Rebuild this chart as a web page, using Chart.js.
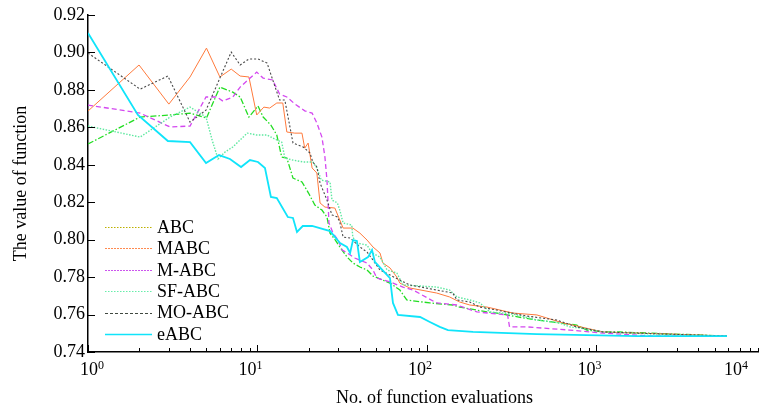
<!DOCTYPE html>
<html>
<head>
<meta charset="utf-8">
<script src="https://cdn.jsdelivr.net/npm/chart.js@4"></script>
<style>
  html, body { margin: 0; padding: 0; background: #fff; }
</style>
</head>
<body>
<canvas id="convChart" width="759" height="412"></canvas>
<script>
"use strict";

// Values (x = function evaluations, y = value of function)
const SERIES_NAMES = ["ABC", "MABC", "M-ABC", "SF-ABC", "MO-ABC", "eABC"];
const X_TICK_POWERS = [0, 1, 2, 3, 4];
const Y_TICKS = [0.74, 0.76, 0.78, 0.80, 0.82, 0.84, 0.86, 0.88, 0.90, 0.92];
const X_TITLE = "No. of function evaluations";
const Y_TITLE = "The value of function";

const abcX = [1, 2.03, 3.05, 4.0, 5.0, 6.0, 7.15, 7.9, 8.9, 10.07, 10.8, 12.0, 13.0, 13.9, 14.9, 16.2, 18.3, 20.0, 21.8, 24.0, 25.7, 26.8, 28.8, 30.6, 33.8, 36.6, 40.2, 44.3, 48.0, 60.5, 69.2, 76.0, 104, 142, 156, 226, 258, 322, 369, 445, 765, 877, 1093, 1370, 5890];
const abcY = [0.8511, 0.8655, 0.8666, 0.8676, 0.8650, 0.8815, 0.8788, 0.8762, 0.8655, 0.8714, 0.8655, 0.8612, 0.8559, 0.8441, 0.8436, 0.8329, 0.8308, 0.8249, 0.8185, 0.8158, 0.8121, 0.8035, 0.7998, 0.7961, 0.7907, 0.7875, 0.7854, 0.7838, 0.7806, 0.7768, 0.7731, 0.7678, 0.7662, 0.7651, 0.7640, 0.7614, 0.7608, 0.7592, 0.7582, 0.7571, 0.7544, 0.7517, 0.7507, 0.7507, 0.7485];

const mabcX = [1, 2.0, 3.0, 4.0, 5.0, 6.0, 7.0, 7.9, 8.9, 9.9, 10.9, 11.8, 13.0, 14.1, 14.9, 16.6, 18.3, 19.0, 19.9, 21.0, 22.4, 23.4, 25.0, 28.6, 30.6, 32.0, 36.5, 40.2, 44.3, 48.0, 52.8, 55.0, 60.5, 66.4, 69.2, 79.2, 114, 136, 156, 179, 226, 322, 445, 634, 765, 1093, 1733, 2710, 5890];
const mabcY = [0.8687, 0.8933, 0.8724, 0.8869, 0.9023, 0.8869, 0.8911, 0.8874, 0.8869, 0.8666, 0.8708, 0.8703, 0.8730, 0.8730, 0.8575, 0.8569, 0.8569, 0.8489, 0.8516, 0.8383, 0.8356, 0.8196, 0.8174, 0.8169, 0.8105, 0.8062, 0.8062, 0.8035, 0.7998, 0.7961, 0.7929, 0.7875, 0.7849, 0.7800, 0.7768, 0.7742, 0.7715, 0.7694, 0.7667, 0.7651, 0.7640, 0.7608, 0.7598, 0.7555, 0.7539, 0.7507, 0.7501, 0.7496, 0.7485];

const mAbcX = [1, 2.03, 3.05, 4.0, 4.97, 5.76, 6.25, 7.15, 7.9, 9.9, 10.8, 12.3, 13.5, 14.9, 16.6, 19.0, 21.0, 22.4, 24.0, 25.0, 25.7, 26.0, 26.4, 27.9, 29.9, 31.6, 33.8, 37.5, 44.3, 48.0, 50.6, 60.5, 72.2, 82.8, 114, 150, 197, 299, 307, 389, 697, 1093, 2150, 5890];
const mAbcY = [0.8719, 0.8676, 0.8602, 0.8607, 0.8762, 0.8762, 0.8740, 0.8762, 0.8815, 0.8895, 0.8863, 0.8853, 0.8778, 0.8762, 0.8725, 0.8688, 0.8676, 0.8623, 0.8548, 0.8441, 0.8318, 0.8228, 0.8089, 0.8035, 0.7998, 0.7945, 0.7929, 0.7902, 0.7875, 0.7838, 0.7795, 0.7774, 0.7747, 0.7731, 0.7662, 0.7651, 0.7614, 0.7598, 0.7534, 0.7534, 0.7517, 0.7501, 0.7485, 0.7485];

const sfX = [1, 2.03, 3.05, 4.0, 4.97, 5.4, 5.85, 6.43, 7.15, 8.7, 9.9, 11.4, 12.3, 13.9, 14.5, 16.2, 18.6, 21.2, 22.4, 23.8, 26.8, 27.5, 29.6, 30.6, 32.0, 36.0, 36.5, 38.6, 44.3, 47.4, 52.8, 58.2, 66.4, 72.2, 114, 136, 150, 179, 205, 235, 322, 445, 607, 697, 800, 1093, 2150, 5890];
const sfY = [0.8607, 0.8548, 0.8655, 0.8708, 0.8655, 0.8532, 0.8431, 0.8468, 0.8495, 0.8569, 0.8559, 0.8559, 0.8543, 0.8521, 0.8436, 0.8425, 0.8415, 0.8415, 0.8383, 0.8318, 0.8308, 0.8212, 0.8196, 0.8158, 0.8089, 0.8078, 0.8014, 0.7982, 0.7971, 0.7929, 0.7907, 0.7838, 0.7822, 0.7758, 0.7747, 0.7731, 0.7694, 0.7678, 0.7662, 0.7614, 0.7603, 0.7571, 0.7555, 0.7534, 0.7528, 0.7507, 0.7496, 0.7485];

const moX = [1, 2.03, 2.96, 4.0, 4.97, 6.0, 7.0, 7.9, 8.9, 10.07, 11.4, 12.3, 13.5, 14.5, 16.2, 18.6, 20.4, 21.2, 22.4, 23.4, 25.7, 27.5, 29.6, 30.6, 32.0, 35.2, 40.2, 44.3, 48.0, 52.8, 60.5, 69.2, 79.2, 114, 142, 150, 179, 205, 258, 388, 582, 765, 1093, 5890];
const moY = [0.8997, 0.8804, 0.8874, 0.8628, 0.8692, 0.8863, 0.9002, 0.8933, 0.8965, 0.8965, 0.8943, 0.8853, 0.8746, 0.8746, 0.8516, 0.8495, 0.8463, 0.8415, 0.8388, 0.8302, 0.8212, 0.8132, 0.8121, 0.8094, 0.8014, 0.8009, 0.7961, 0.7934, 0.7891, 0.7838, 0.7811, 0.7784, 0.7758, 0.7731, 0.7715, 0.7678, 0.7667, 0.7640, 0.7624, 0.7592, 0.7571, 0.7534, 0.7507, 0.7485];

const eAbcX = [1, 1.97, 2.96, 4.0, 4.97, 5.93, 6.88, 8.0, 9.03, 10.07, 11.07, 12.0, 13.0, 15.1, 16.2, 17.1, 18.5, 21.0, 26.8, 30.7, 33.7, 35.2, 36.6, 38.6, 40.2, 44.9, 47.4, 49.3, 60.5, 63.0, 67.4, 91.0, 104, 119, 133, 187, 445, 1733, 5890];
const eAbcY = [0.9104, 0.8666, 0.8527, 0.8521, 0.8409, 0.8452, 0.8431, 0.8388, 0.8425, 0.8415, 0.8383, 0.8228, 0.8222, 0.8121, 0.8116, 0.8041, 0.8073, 0.8073, 0.8046, 0.7982, 0.7961, 0.7929, 0.7998, 0.7993, 0.7881, 0.7907, 0.7945, 0.7881, 0.7795, 0.7662, 0.7598, 0.7587, 0.7560, 0.7534, 0.7517, 0.7507, 0.7496, 0.7485, 0.7485];

const FONT_FAMILY = '"Liberation Serif", "Times New Roman", Times, serif';
const FONT_SIZE = 18;

function toPoints(xs, ys) {
  return xs.map((x, i) => ({ x: x, y: ys[i] }));
}

const seriesData = [
  toPoints(abcX, abcY),
  toPoints(mabcX, mabcY),
  toPoints(mAbcX, mAbcY),
  toPoints(sfX, sfY),
  toPoints(moX, moY),
  toPoints(eAbcX, eAbcY),
];

// line looks, one per series
const looks = [
  { color: "#22dd22", dash: [6, 2, 1.5, 2], width: 1.3, legendColor: "#bcb000", legendDash: [1.5, 1.5] },
  { color: "#ff7a3c", dash: [], width: 1, legendColor: "#ff8a50", legendDash: [2, 1] },
  { color: "#d448f0", dash: [5, 3], width: 1.3, legendColor: "#cc55ee", legendDash: [2, 1] },
  { color: "#5ee8a0", dash: [1.5, 1.5], width: 1.4, legendColor: "#66eeaa", legendDash: [1.5, 1.5] },
  { color: "#484848", dash: [2, 2], width: 1.1, legendColor: "#404840", legendDash: [3, 2] },
  { color: "#10e4fa", dash: [], width: 1.8, legendColor: "#10e4fa", legendDash: [] },
];

const datasets = SERIES_NAMES.map((name, i) => ({
  label: name,
  data: seriesData[i],
  borderColor: looks[i].color,
  borderDash: looks[i].dash,
  borderWidth: looks[i].width,
  pointRadius: 0,
  fill: false,
  tension: 0,
  order: SERIES_NAMES.length - i,
}));

// inward tick marks, 10^n labels, x title and the legend inside the axes
const decorPlugin = {
  id: "decor",
  afterDraw(chart) {
    const ctx = chart.ctx;
    const a = chart.chartArea;
    const xs = chart.scales.x;
    const ys = chart.scales.y;
    ctx.save();
    ctx.strokeStyle = "#000";
    ctx.lineWidth = 1;
    ctx.setLineDash([]);

    Y_TICKS.forEach(v => {
      const py = Math.round(ys.getPixelForValue(v)) + 0.5;
      ctx.beginPath();
      ctx.moveTo(a.left, py);
      ctx.lineTo(a.left + 7, py);
      ctx.stroke();
    });

    for (let p = 0; p < 4; p++) {
      for (let m = 1; m <= 9; m++) {
        const v = m * Math.pow(10, p);
        if (v > xs.max) break;
        const px = Math.round(xs.getPixelForValue(v)) + 0.5;
        const len = m === 1 ? 7 : 4;
        ctx.beginPath();
        ctx.moveTo(px, a.bottom);
        ctx.lineTo(px, a.bottom - len);
        ctx.stroke();
      }
    }

    ctx.fillStyle = "#000";
    ctx.textBaseline = "alphabetic";
    ctx.textAlign = "left";
    const bigFont = FONT_SIZE + "px " + FONT_FAMILY;
    const supFont = "12px " + FONT_FAMILY;
    X_TICK_POWERS.forEach(p => {
      const px = xs.getPixelForValue(Math.pow(10, p));
      ctx.font = bigFont;
      const w1 = ctx.measureText("10").width;
      ctx.font = supFont;
      const w2 = ctx.measureText(String(p)).width;
      const w = w1 + w2;
      let left = px - 7 - w / 2;
      left = Math.max(left, a.left - 8);
      left = Math.min(left, chart.width - 11 - w);
      ctx.font = bigFont;
      ctx.fillText("10", left, a.bottom + 23);
      ctx.font = supFont;
      ctx.fillText(String(p), left + w1, a.bottom + 17);
    });

    ctx.font = bigFont;
    ctx.textAlign = "center";
    ctx.fillText(X_TITLE, (a.left + a.right) / 2 + 11, a.bottom + 51);

    // legend, lower left inside the axes
    const lx = a.left + 17;
    const rowH = 21.4;
    const n = SERIES_NAMES.length;
    ctx.textAlign = "left";
    ctx.textBaseline = "middle";
    SERIES_NAMES.forEach((name, i) => {
      const ly = a.bottom - 18 - (n - 1 - i) * rowH;
      ctx.strokeStyle = looks[i].legendColor;
      ctx.lineWidth = i === n - 1 ? 1.5 : 1.2;
      ctx.setLineDash(looks[i].legendDash);
      ctx.beginPath();
      ctx.moveTo(lx, Math.round(ly) + 0.5);
      ctx.lineTo(lx + 47, Math.round(ly) + 0.5);
      ctx.stroke();
      ctx.setLineDash([]);
      ctx.fillStyle = "#000";
      ctx.fillText(name, lx + 52, ly + 1);
    });
    ctx.restore();
  },
};

const canvas = document.getElementById("convChart");
const _ = new Chart(canvas.getContext("2d"), {
  type: "line",
  data: { datasets: datasets },
  plugins: [decorPlugin],
  options: {
    responsive: false,
    animation: false,
    devicePixelRatio: 1,
    layout: { padding: { top: 15, right: 0, left: 0, bottom: 0 } },
    plugins: {
      legend: { display: false },
      tooltip: { enabled: false },
    },
    scales: {
      x: {
        type: "logarithmic",
        min: 1,
        max: 9100,
        grid: { display: false, drawTicks: false },
        border: { display: true, color: "#000", width: 1.5 },
        ticks: { display: false },
        afterFit(scale) { scale.height = 60; },
      },
      y: {
        type: "linear",
        min: 0.74,
        max: 0.92,
        grid: { display: false, drawTicks: false },
        border: { display: true, color: "#000", width: 1.5 },
        afterBuildTicks(scale) { scale.ticks = Y_TICKS.map(v => ({ value: v })); },
        ticks: {
          color: "#000",
          padding: 3,
          font: { family: FONT_FAMILY, size: FONT_SIZE },
          callback: v => Number(v).toFixed(2),
        },
        title: {
          display: true,
          text: Y_TITLE,
          color: "#000",
          font: { family: FONT_FAMILY, size: FONT_SIZE },
          padding: { top: 10, bottom: 0 },
        },
        afterFit(scale) { scale.width = 88; },
      },
    },
  },
});
</script>
</body>
</html>
